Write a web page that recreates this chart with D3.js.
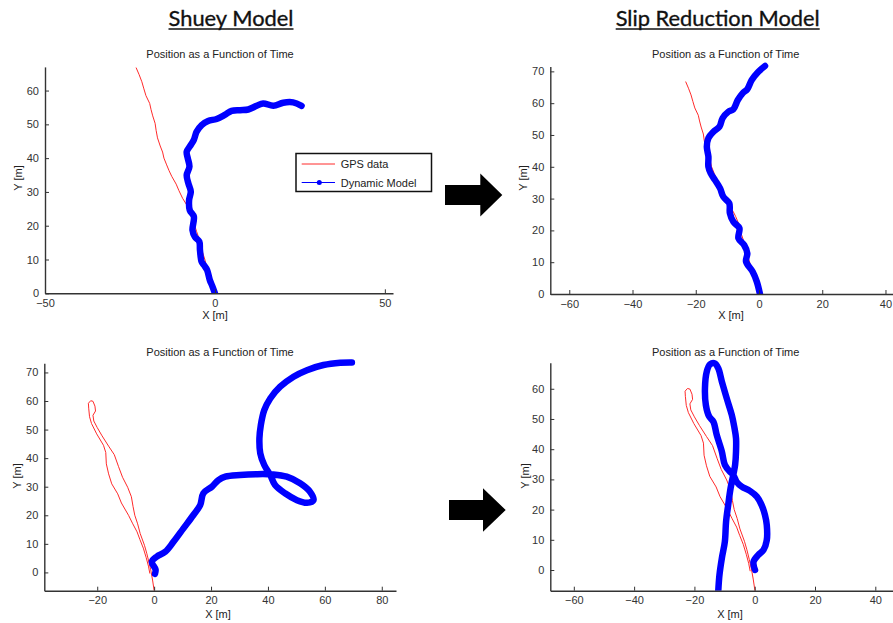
<!DOCTYPE html>
<html>
<head>
<meta charset="utf-8">
<script src="https://cdn.jsdelivr.net/npm/d3@7"></script>
<style>
  html, body { margin: 0; padding: 0; background: #fff; }
  svg { display: block; }
  .tick text { font-family: "Liberation Sans", Arial, sans-serif; font-size: 11px; fill: #333; }
</style>
</head>
<body>
<svg id="chart" width="893" height="623"></svg>
<script>
// ---------------- DATA ----------------
const columnTitles = ["Shuey Model", "Slip Reduction Model"];
const subplotTitle = "Position as a Function of Time";
const xLabel = "X [m]";
const yLabel = "Y [m]";
const legendLabels = ["GPS data", "Dynamic Model"];

// GPS track, run 1 (x, y in metres)
const gpsRun1 = [[0,0],[-0.8,2.5],[-1.6,5.2],[-2.4,7.5],[-2.9,9.8],[-3.6,12.0],[-4.3,14.2],[-4.6,16.0],
  [-5.4,18.3],[-6.0,20.2],[-6.5,22.3],[-7.4,24.4],[-8.2,26.0],[-9.5,28.1],[-10.6,30.4],[-11.4,32.3],
  [-12.7,34.6],[-13.5,36.3],[-14.2,38.0],[-15.0,40.0],[-15.4,41.8],[-16.1,43.6],[-16.9,46.0],[-17.3,48.2],
  [-17.6,50.3],[-18.3,52.5],[-18.8,54.4],[-19.2,56.2],[-20.3,58.5],[-20.9,60.5],[-21.5,62.6],[-22.3,64.7],[-23.2,66.8]];

// GPS track, run 2
const gpsRun2 = [[0.1,-7.0],[-0.5,-3.0],[-1.2,0.9],[-1.8,3.5],[-2.6,6.7],[-3.4,9.5],[-4.9,13.6],[-5.8,17.0],
  [-6.8,20.0],[-7.4,23.0],[-8.0,26.5],[-9.3,29.8],[-11.1,33.3],[-12.5,37.0],[-14.0,41.2],[-16.0,44.2],
  [-18.3,47.8],[-20.0,50.7],[-21.2,53.0],[-21.5,55.0],[-20.6,56.5],[-20.8,58.2],[-21.5,59.9],[-22.3,60.1],
  [-23.1,59.2],[-23.0,57.5],[-22.7,54.5],[-22.0,52.1],[-20.2,48.5],[-17.8,44.5],[-17.0,42.0],[-16.8,38.0],
  [-16.0,34.5],[-14.9,31.0],[-12.8,27.5],[-11.5,24.3],[-9.0,20.0],[-7.5,17.0],[-6.0,14.2],[-5.0,11.5],
  [-3.8,8.5],[-2.8,5.2],[-2.0,2.2],[-1.5,-0.4]];

// Dynamic model, Shuey, run 1
const shueyRun1 = [[0,0],[-0.8,2.2],[-1.5,3.9],[-2.3,6.9],[-3.2,8.3],[-3.9,9.3],[-4.4,12.8],[-4.6,15.3],
  [-5.9,16.7],[-6.6,18.7],[-6.2,22.7],[-7.4,24.6],[-7.6,27.6],[-7.1,30.1],[-7.8,32.5],[-8.3,35.0],
  [-7.5,37.5],[-8.0,40.0],[-8.3,41.9],[-7.1,43.9],[-6.2,45.4],[-5.4,47.8],[-3.9,49.8],[-2.0,51.0],
  [0.5,51.6],[2.9,52.8],[4.9,54.0],[7.4,54.2],[9.8,54.4],[12.3,55.5],[14.2,56.2],[17.2,55.5],
  [20.1,56.4],[23.0,56.5],[25.5,55.5]];

// Dynamic model, slip reduction, run 1
const slipRun1 = [[0.3,0],[-0.7,3.9],[-2.0,7.0],[-4.1,10.2],[-3.7,12.8],[-4.7,15.4],[-6.5,17.5],[-6.2,20.7],
  [-8.1,22.7],[-9.2,25.4],[-9.4,28.5],[-11.3,30.6],[-12.3,33.2],[-13.9,35.8],[-15.3,38.0],[-16.0,40.0],
  [-16.0,43.2],[-16.5,46.3],[-16.0,49.0],[-14.4,51.0],[-12.5,52.6],[-11.5,55.3],[-9.7,57.3],[-8.1,58.1],
  [-6.7,61.0],[-5.2,63.1],[-3.7,64.4],[-2.3,67.3],[-0.2,69.9],[1.9,71.7]];

// Dynamic model, Shuey, run 2
const shueyRun2 = [[0.3,-0.5],[0.5,1.0],[-0.8,3.7],[0.9,5.5],[3.9,7.2],[6.8,10.7],[10.3,15.4],[13.8,20.1],
  [16.2,23.6],[17.3,27.7],[20.3,30.0],[22.6,32.3],[25.0,33.5],[30.2,34.1],[36.1,34.4],[41.9,34.3],
  [46.6,33.5],[51.3,31.2],[54.8,28.2],[56.0,25.3],[53.7,24.4],[50.2,25.3],[46.0,27.7],[42.5,30.6],
  [40.8,34.1],[38.7,37.6],[37.3,41.7],[37.0,46.9],[37.5,51.6],[38.7,56.8],[40.8,60.9],[44.3,65.0],
  [49.0,68.5],[53.7,70.8],[59.5,72.6],[65.4,73.4],[69.5,73.5]];

// Dynamic model, slip reduction, run 2
const slipRun2 = [[0.1,0],[-0.4,2.7],[1.2,5.0],[2.9,6.6],[4.0,9.9],[4.0,14.9],[3.4,18.2],[2.3,21.5],
  [0.7,24.3],[-1.6,26.2],[-4.3,27.6],[-6.0,29.2],[-7.1,31.5],[-8.2,32.5],[-9.9,34.8],[-10.9,39.2],
  [-12.6,44.7],[-13.7,49.1],[-15.1,50.8],[-16.2,54.6],[-16.5,60.2],[-15.9,65.7],[-14.8,68.1],[-13.2,68.4],
  [-12.1,66.8],[-10.9,62.4],[-9.3,56.9],[-7.6,51.3],[-6.8,47.5],[-6.2,43.6],[-6.2,39.2],[-6.5,34.8],
  [-7.1,31.5],[-8.0,27.1],[-8.8,21.5],[-9.5,16.0],[-9.9,9.4],[-10.9,3.9],[-11.7,-1.7],[-12.1,-7.2]];

// Axis limits and tick values per panel
const xDomains = [[-50,52.4],[-66,42.6],[-38.6,85],[-67.8,45.9]];
const yDomains = [[0,67],[0,71.5],[-6.4,73.2],[-6.85,68.6]];
const xTickValues = [[-50,0,50],[-60,-40,-20,0,20,40],[-20,0,20,40,60,80],[-60,-40,-20,0,20,40]];
const yTickValues = [[0,10,20,30,40,50,60],[0,10,20,30,40,50,60,70],[0,10,20,30,40,50,60,70],[0,10,20,30,40,50,60]];
const gpsSeries = [gpsRun1, gpsRun1, gpsRun2, gpsRun2];
const modelSeries = [shueyRun1, slipRun1, shueyRun2, slipRun2];

// ---------------- LAYOUT ----------------
const layout = [
  {x0:45,   x1:393,   y0:293.3, y1:66.9,  titleX:220,   titleY:58,  xlabX:215, xlabY:319, ylabX:22,  ylabY:178},
  {x0:550.3,x1:893.7, y0:294,   y1:66.6,  titleX:725.7, titleY:58,  xlabX:731, xlabY:319, ylabX:527, ylabY:178},
  {x0:44.3, x1:396,   y0:590.7, y1:363.3, titleX:220,   titleY:356, xlabX:218, xlabY:618, ylabX:21,  ylabY:476},
  {x0:550.3,x1:893.1, y0:590.7, y1:362.8, titleX:725.7, titleY:356, xlabX:730, xlabY:618, ylabX:529, ylabY:476}
];
const gpsColor = "#ff2a2a";
const modelColor = "#0000ff";
const axisColor = "#333";
const labelFont = '"Liberation Sans", Arial, sans-serif';

const svg = d3.select("#chart");
svg.append("rect").attr("width",893).attr("height",623).attr("fill","#fff");

// Column headers
const headers = [{x:231, w:125}, {x:717.7, w:204}];
headers.forEach((h,i)=>{
  svg.append("text")
    .attr("x", h.x).attr("y", 25.5)
    .attr("text-anchor","middle")
    .attr("font-family", 'Lato, "Open Sans", sans-serif')
    .attr("font-size", 22)
    .attr("fill", "#111")
    .attr("stroke", "#111").attr("stroke-width", 0.35)
    .attr("textLength", h.w).attr("lengthAdjust","spacingAndGlyphs")
    .text(columnTitles[i]);
  svg.append("line")
    .attr("x1", h.x - h.w/2).attr("x2", h.x + h.w/2)
    .attr("y1", 29).attr("y2", 29)
    .attr("stroke", "#111").attr("stroke-width", 1.5);
});

const lineGen = (xs, ys, curve) => d3.line().x(d=>xs(d[0])).y(d=>ys(d[1])).curve(curve);

layout.forEach((L, i) => {
  const xs = d3.scaleLinear().domain(xDomains[i]).range([L.x0, L.x1]);
  const ys = d3.scaleLinear().domain(yDomains[i]).range([L.y0, L.y1]);
  const g = svg.append("g");

  // clip: data limited at axis lines, thick strokes may overhang the top slightly
  const clipId = "clip" + i;
  svg.append("clipPath").attr("id", clipId)
    .append("rect")
    .attr("x", L.x0 - 6).attr("y", L.y1 - 6)
    .attr("width", L.x1 - L.x0 + 12).attr("height", L.y0 - L.y1 + 6);

  const plot = g.append("g").attr("clip-path", `url(#${clipId})`);
  plot.append("path")
    .attr("d", lineGen(xs, ys, d3.curveLinear)(gpsSeries[i]))
    .attr("fill","none").attr("stroke", gpsColor).attr("stroke-width", 1)
    .attr("stroke-linejoin","round");
  plot.append("path")
    .attr("d", lineGen(xs, ys, d3.curveCatmullRom)(modelSeries[i]))
    .attr("fill","none").attr("stroke", modelColor).attr("stroke-width", 6.5)
    .attr("stroke-linejoin","round").attr("stroke-linecap","round");

  // axes (MATLAB-like inward ticks)
  const xAxis = d3.axisBottom(xs).tickValues(xTickValues[i]).tickSizeInner(-4).tickSizeOuter(0).tickPadding(6).tickFormat(d3.format("d"));
  const yAxis = d3.axisLeft(ys).tickValues(yTickValues[i]).tickSizeInner(-4).tickSizeOuter(0).tickPadding(6).tickFormat(d3.format("d"));
  const gx = g.append("g").attr("transform", `translate(0,${L.y0})`).call(xAxis);
  const gy = g.append("g").attr("transform", `translate(${L.x0},0)`).call(yAxis);
  [gx, gy].forEach(a => {
    a.select(".domain").attr("stroke", axisColor).attr("stroke-width", 1.4);
    a.selectAll(".tick line").attr("stroke", axisColor).attr("stroke-width", 1);
    a.selectAll(".tick text").attr("fill", "#333");
  });

  // subplot title & labels
  g.append("text").attr("x", L.titleX).attr("y", L.titleY)
    .attr("text-anchor","middle").attr("font-family", labelFont).attr("font-size", 11).attr("fill","#222")
    .text(subplotTitle);
  g.append("text").attr("x", L.xlabX).attr("y", L.xlabY)
    .attr("text-anchor","middle").attr("font-family", labelFont).attr("font-size", 11).attr("fill","#222")
    .text(xLabel);
  g.append("text").attr("transform", `translate(${L.ylabX},${L.ylabY}) rotate(-90)`)
    .attr("text-anchor","middle").attr("font-family", labelFont).attr("font-size", 11).attr("fill","#222")
    .text(yLabel);
});

// Legend (inside top-left panel area)
const lg = svg.append("g");
lg.append("rect").attr("x", 296).attr("y", 153.5).attr("width", 135.5).attr("height", 38)
  .attr("fill","#fff").attr("stroke","#111").attr("stroke-width",1.5);
lg.append("line").attr("x1",301.7).attr("x2",335).attr("y1",164).attr("y2",164)
  .attr("stroke", gpsColor).attr("stroke-width",1);
lg.append("line").attr("x1",301.7).attr("x2",335).attr("y1",182.5).attr("y2",182.5)
  .attr("stroke", modelColor).attr("stroke-width",1);
lg.append("circle").attr("cx",319.3).attr("cy",182.5).attr("r",2.5).attr("fill", modelColor);
legendLabels.forEach((t,k)=>{
  lg.append("text").attr("x",340.7).attr("y", k===0 ? 168 : 186.5)
    .attr("font-family", labelFont).attr("font-size", 11).attr("fill","#222").text(t);
});

// Block arrows between columns
const arrows = [
  {xs:445, xh:480.3, xt:502.3, cy:195, bh:10, hh:21.5},
  {xs:449, xh:483,   xt:505.7, cy:510, bh:10, hh:21.8}
];
arrows.forEach(a=>{
  const pts = [[a.xs,a.cy-a.bh],[a.xh,a.cy-a.bh],[a.xh,a.cy-a.hh],[a.xt,a.cy],[a.xh,a.cy+a.hh],[a.xh,a.cy+a.bh],[a.xs,a.cy+a.bh]];
  svg.append("path").attr("d", d3.line()(pts) + "Z").attr("fill","#000");
});
</script>
</body>
</html>
